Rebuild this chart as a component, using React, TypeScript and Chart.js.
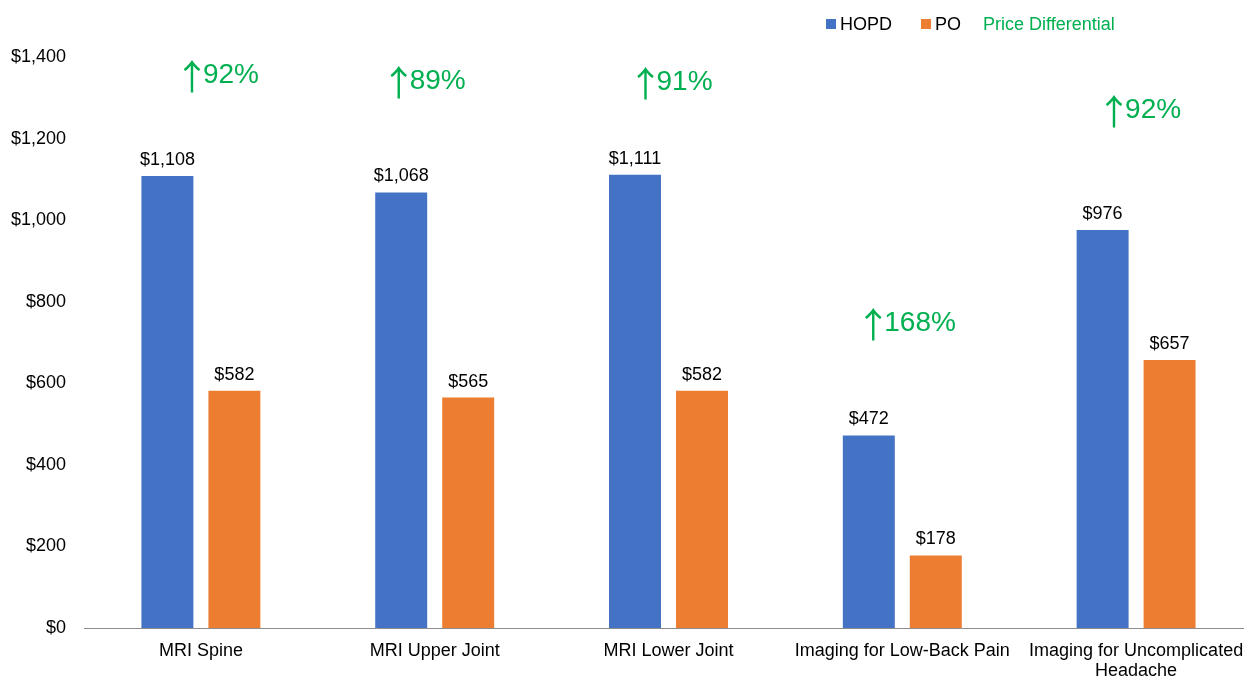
import React, { useEffect, useRef } from "react";
import { Chart, registerables } from "chart.js";

Chart.register(...registerables);

const categories: (string | string[])[] = [
  "MRI Spine",
  "MRI Upper Joint",
  "MRI Lower Joint",
  "Imaging for Low-Back Pain",
  ["Imaging for Uncomplicated", "Headache"],
];
const hopdValues = [1108, 1068, 1111, 472, 976];
const poValues = [582, 565, 582, 178, 657];
const priceDifferential = ["92%", "89%", "91%", "168%", "92%"];
const yTicks = [0, 200, 400, 600, 800, 1000, 1200, 1400];

// placement of the free-floating differential labels (baseline in value units, left offset in px from category centre)
const diffBaseline = [1336, 1321, 1319, 728, 1250];
const diffOffsetX = [-14, -41, -28, -34, -27];

const FONT = "'Liberation Sans', Arial, sans-serif";
const ARROW_FONT = "'Noto Sans CJK SC', 'DejaVu Sans', sans-serif";
const BLUE = "#4472C4";
const ORANGE = "#ED7D31";
const GREEN = "#00B050";

const fmt = (v: number) => "$" + v.toLocaleString("en-US");

const overlayPlugin = {
  id: "overlay",
  afterDatasetsDraw(chart: any) {
    const { ctx } = chart;
    ctx.save();
    // value labels
    ctx.font = `18px ${FONT}`;
    ctx.fillStyle = "#000";
    ctx.textAlign = "center";
    ctx.textBaseline = "alphabetic";
    chart.data.datasets.forEach((ds: any, di: number) => {
      const meta = chart.getDatasetMeta(di);
      meta.data.forEach((el: any, i: number) => {
        ctx.fillText(fmt(ds.data[i]), el.x, el.y - 11);
      });
    });
    // price differential labels
    const xs = chart.scales.x;
    const ys = chart.scales.y;
    ctx.fillStyle = GREEN;
    priceDifferential.forEach((d, i) => {
      const x = xs.getPixelForValue(i) + diffOffsetX[i];
      const y = ys.getPixelForValue(diffBaseline[i]);
      ctx.font = `35px ${ARROW_FONT}`;
      ctx.textAlign = "center";
      ctx.fillText("\u2191", x + 5, y + 7);
      ctx.font = `28px ${FONT}`;
      ctx.textAlign = "left";
      ctx.fillText(d, x + 16, y);
    });
    // legend
    ctx.font = `18px ${FONT}`;
    ctx.textAlign = "left";
    ctx.fillStyle = BLUE;
    ctx.fillRect(826, 19, 10, 10);
    ctx.fillStyle = "#000";
    ctx.fillText("HOPD", 840, 30);
    ctx.fillStyle = ORANGE;
    ctx.fillRect(921, 19, 10, 10);
    ctx.fillStyle = "#000";
    ctx.fillText("PO", 935, 30);
    ctx.fillStyle = GREEN;
    ctx.fillText("Price Differential", 983, 30);
    ctx.restore();
  },
};

export default function App() {
  const ref = useRef<HTMLCanvasElement>(null);
  useEffect(() => {
    const canvas = ref.current!;
    const chart = new Chart(canvas, {
      type: "bar",
      data: {
        labels: categories,
        datasets: [
          {
            label: "HOPD",
            data: hopdValues,
            backgroundColor: BLUE,
            categoryPercentage: 0.573,
            barPercentage: 0.776,
          },
          {
            label: "PO",
            data: poValues,
            backgroundColor: ORANGE,
            categoryPercentage: 0.573,
            barPercentage: 0.776,
          },
        ],
      },
      options: {
        animation: false,
        responsive: false,
        devicePixelRatio: 1,
        layout: { padding: { top: 57, left: 0, right: 7, bottom: 0 } },
        plugins: {
          legend: { display: false },
          tooltip: { enabled: false },
        },
        scales: {
          x: {
            type: "category",
            offset: true,
            grid: { display: false, drawTicks: false },
            border: { display: true, color: "#8c8c8c", width: 1 },
            ticks: {
              font: { family: FONT, size: 18, lineHeight: 1.1 },
              color: "#000",
              padding: 13,
              maxRotation: 0,
              minRotation: 0,
              autoSkip: false,
            },
            afterFit: (s: any) => {
              s.height = 49;
            },
          },
          y: {
            min: 0,
            max: 1400,
            afterBuildTicks: (s: any) => {
              s.ticks = yTicks.map((v) => ({ value: v }));
            },
            grid: { display: false, drawTicks: false },
            border: { display: false },
            ticks: {
              font: { family: FONT, size: 18 },
              color: "#000",
              padding: 18,
              callback: (v: any) => fmt(Number(v)),
            },
            afterFit: (s: any) => {
              s.width = 84;
            },
          },
        },
      },
      plugins: [overlayPlugin],
    });
    return () => chart.destroy();
  }, []);
  return (
    <div
      style={{
        position: "fixed",
        left: 0,
        top: 0,
        width: 1244,
        height: 677,
        overflow: "hidden",
        background: "#fff",
      }}
    >
      <canvas ref={ref} width={1260} height={677} style={{ display: "block", width: 1260, height: 677 }} />
    </div>
  );
}
